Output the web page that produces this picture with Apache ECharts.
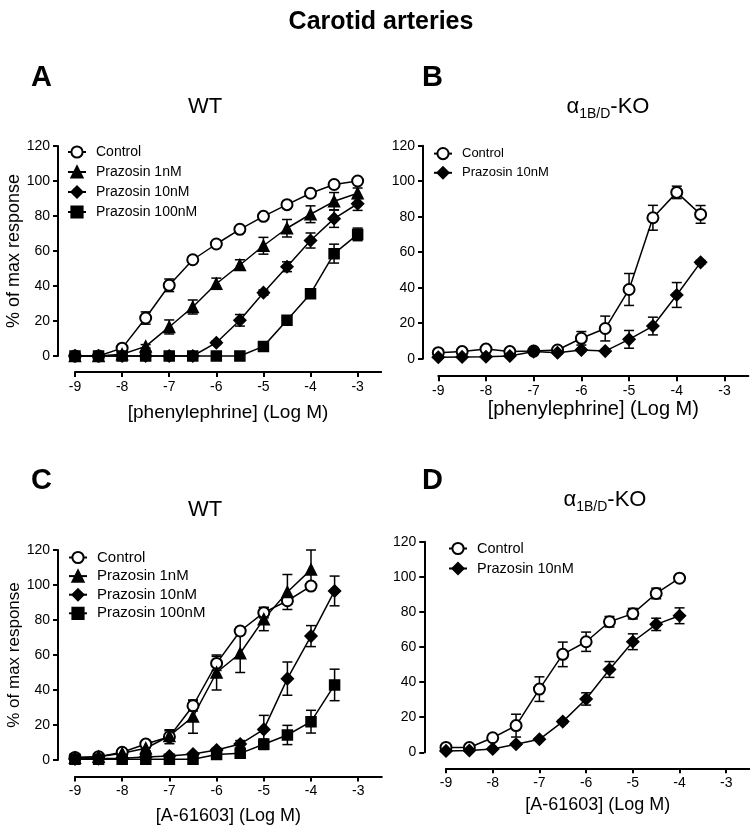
<!DOCTYPE html>
<html>
<head>
<meta charset="utf-8">
<script src="https://cdn.jsdelivr.net/npm/echarts@6/dist/echarts.min.js"></script>
<style>
  html, body { margin: 0; padding: 0; background: #fff; }
  #main { width: 750px; height: 827px; }
</style>
</head>
<body>
<div id="main"></div>
<script>
// concentrations (log M)
var xFull = [-9, -8.5, -8, -7.5, -7, -6.5, -6, -5.5, -5, -4.5, -4, -3.5, -3];
var xTo35 = [-9, -8.5, -8, -7.5, -7, -6.5, -6, -5.5, -5, -4.5, -4, -3.5];
var xTo4 = [-9, -8.5, -8, -7.5, -7, -6.5, -6, -5.5, -5, -4.5, -4];
var xTicks = [-9, -8, -7, -6, -5, -4, -3];

// A: WT, phenylephrine
var ctrlA = [0, 0, 4.5, 21.7, 40.4, 55, 64, 72.4, 79.8, 86.5, 93, 98, 100];
var ctrlAErr = [0, 0, 1, 3.5, 3.6, 1.5, 1.5, 1.5, 1.5, 1.5, 1.5, 1.5, 1];
var pz1A = [0, 0, 1, 5.5, 16.6, 28, 41.3, 52, 63, 73, 81, 88.4, 93];
var pz1AErr = [0, 0, 0.5, 1, 4, 4, 3.2, 3, 4.8, 5, 4.8, 5, 3];
var pz10A = [0, 0, 0, 0, 0, 0, 7.6, 20.4, 36.2, 51, 66, 78.5, 87];
var pz10AErr = [0, 0, 0, 0, 0, 0, 1, 3.3, 1.5, 2.8, 4.3, 5, 3.8];
var pz100A = [0, 0, 0, 0, 0, 0, 0, 0, 5.5, 20.4, 35.6, 58.5, 69.5];
var pz100AErr = [0, 0, 0, 0, 0, 0, 0, 0, 1, 1.5, 2, 5.4, 3.6];

// B: a1B/D-KO, phenylephrine
var ctrlB = [3.4, 4, 5.4, 4, 4.3, 4.9, 11.5, 17, 39, 79.4, 93.7, 81.3];
var ctrlBErr = [0.5, 0.5, 0.5, 0.5, 0.5, 0.5, 3.8, 7, 9, 7, 3.5, 5];
var pzB = [0.8, 1, 1.1, 1.5, 4, 3.4, 4.9, 4.3, 10.9, 18.4, 35.9, 54.3];
var pzBErr = [0, 0, 0, 0, 0.5, 0.5, 0.5, 0.5, 5, 5, 7, 1];

// C: WT, A-61603
var ctrlC = [1.5, 1.9, 4.4, 9.1, 13.3, 31, 55.2, 73.7, 84.2, 91, 99.4];
var ctrlCErr = [0.5, 0.5, 1, 2, 4, 3, 4, 2, 3, 2, 2];
var pz1C = [1.3, 1.9, 3.8, 6.7, 13.7, 24.8, 50, 61, 80.5, 96, 108.8];
var pz1CErr = [0.3, 0.5, 1, 1.5, 3, 9.5, 10, 11, 6.6, 10, 11.2];
var pz10C = [0.6, 0.8, 1, 1.7, 2.3, 3.4, 5.7, 9.1, 17.5, 46.5, 70.8, 96.6];
var pz10CErr = [0, 0, 0, 0.5, 0.5, 0.5, 1, 2, 8, 9.5, 6, 8.5];
var pz100C = [0.4, 0.4, 0.4, 0.4, 0.4, 0.4, 3.2, 3.8, 9, 14.3, 21.9, 42.9];
var pz100CErr = [0, 0, 0, 0, 0, 0, 0.5, 1, 3, 5.5, 6.5, 9];

// D: a1B/D-KO, A-61603
var ctrlD = [2.8, 2.7, 8.3, 15.2, 36, 55.8, 63, 74.4, 79, 90.5, 99.2];
var ctrlDErr = [0.5, 0.5, 1, 6.5, 7, 7, 5.5, 3, 3, 3, 1];
var pzD = [0.8, 1, 1.9, 4.6, 7.4, 17.5, 30.4, 47.2, 63, 72.9, 77.8];
var pzDErr = [0, 0, 0, 0.5, 0.5, 1, 3.5, 4.5, 4.5, 3.5, 4.5];

var font = 'Liberation Sans, Arial, sans-serif';
var chart = echarts.init(document.getElementById('main'));

var syms = {
    'Control': { symbol: 'emptyCircle', size: 11 },
    'Prazosin 1nM': { symbol: 'triangle', size: 11 },
    'Prazosin 10nM': { symbol: 'diamond', size: 12 },
    'Prazosin 100nM': { symbol: 'rect', size: 10 }
};

function lineSeries(name, xs, ys, gi) {
    return {
        name: name,
        type: 'line',
        xAxisIndex: gi,
        yAxisIndex: gi,
        data: xs.map(function (x, i) { return [x, ys[i]]; }),
        symbol: syms[name].symbol,
        symbolSize: syms[name].size,
        showAllSymbol: true,
        clip: false,
        z: 3,
        lineStyle: { color: '#000', width: 1.5 },
        itemStyle: { color: '#000', borderColor: '#000', borderWidth: 1.5 },
        emphasis: { disabled: true }
    };
}

function errRender(params, api) {
    var x = api.value(0);
    var top = api.coord([x, api.value(2)]);
    var bot = api.coord([x, api.value(1)]);
    var w = 5;
    var st = { stroke: '#000', lineWidth: 1.5 };
    return {
        type: 'group',
        children: [
            { type: 'line', shape: { x1: top[0], y1: top[1], x2: bot[0], y2: bot[1] }, style: st },
            { type: 'line', shape: { x1: top[0] - w, y1: top[1], x2: top[0] + w, y2: top[1] }, style: st },
            { type: 'line', shape: { x1: bot[0] - w, y1: bot[1], x2: bot[0] + w, y2: bot[1] }, style: st }
        ]
    };
}

function errSeries(xs, ys, es, gi) {
    var d = [];
    xs.forEach(function (x, i) {
        if (es[i] > 0.9) d.push([x, ys[i] - es[i], ys[i] + es[i]]);
    });
    return {
        type: 'custom',
        xAxisIndex: gi,
        yAxisIndex: gi,
        data: d,
        renderItem: errRender,
        clip: false,
        z: 2,
        silent: true
    };
}

function xAxisFor(gi, name, nameGap, nameSize, offset) {
    return {
        type: 'value', gridIndex: gi, min: -9, max: -2.5, offset: offset,
        name: name, nameLocation: 'middle', nameGap: nameGap,
        nameTextStyle: { fontSize: nameSize, color: '#000', fontFamily: font },
        axisLine: { show: true, onZero: false, lineStyle: { color: '#000', width: 2 } },
        axisTick: { show: true, length: 5, customValues: xTicks, lineStyle: { color: '#000', width: 2 } },
        axisLabel: { customValues: xTicks, fontSize: 14, color: '#000', margin: 8, fontFamily: font },
        splitLine: { show: false }
    };
}

function yAxisFor(gi, name, nameSize, offset) {
    return {
        type: 'value', gridIndex: gi, min: 0, max: 120, interval: 20, offset: offset,
        name: name, nameLocation: 'middle', nameRotate: 90, nameGap: 35,
        nameTextStyle: { fontSize: nameSize, color: '#000', fontFamily: font },
        axisLine: { show: true, onZero: false, lineStyle: { color: '#000', width: 2 } },
        axisTick: { show: true, length: 5, lineStyle: { color: '#000', width: 2 } },
        axisLabel: { fontSize: 14, color: '#000', margin: 8, fontFamily: font },
        splitLine: { show: false }
    };
}

function legendFor(names, left, top, gap, size) {
    return {
        data: names, orient: 'vertical', left: left, top: top,
        itemWidth: 18, itemHeight: 14, itemGap: gap,
        selectedMode: false,
        textStyle: { fontSize: size, color: '#000', fontFamily: font, padding: [0, 0, 0, 5] }
    };
}

var rich = {
    a: { fontSize: 22, fontWeight: 'normal', fontFamily: font, color: '#000' },
    s: { fontSize: 14, fontWeight: 'normal', fontFamily: font, color: '#000', padding: [14, 0, 0, 0] }
};
var koText = '{a|α}{s|1B/D}{a|-KO}';
var allNames = ['Control', 'Prazosin 1nM', 'Prazosin 10nM', 'Prazosin 100nM'];

var option = {
    animation: false,
    backgroundColor: '#fff',
    title: [
        { text: 'Carotid arteries', left: 376, top: 5, textAlign: 'center',
          textStyle: { fontSize: 25, fontWeight: 'bold', color: '#000', fontFamily: font } },
        { text: 'A', left: 26, top: 58, textStyle: { fontSize: 29, fontWeight: 'bold', color: '#000', fontFamily: font } },
        { text: 'B', left: 417, top: 58, textStyle: { fontSize: 29, fontWeight: 'bold', color: '#000', fontFamily: font } },
        { text: 'C', left: 26, top: 461, textStyle: { fontSize: 29, fontWeight: 'bold', color: '#000', fontFamily: font } },
        { text: 'D', left: 417, top: 461, textStyle: { fontSize: 29, fontWeight: 'bold', color: '#000', fontFamily: font } },
        { text: 'WT', left: 200, top: 91, textAlign: 'center',
          textStyle: { fontSize: 22, fontWeight: 'normal', color: '#000', fontFamily: font } },
        { text: koText, left: 603, top: 88, textAlign: 'center', textStyle: { fontWeight: 'normal', rich: rich } },
        { text: 'WT', left: 200, top: 494, textAlign: 'center',
          textStyle: { fontSize: 22, fontWeight: 'normal', color: '#000', fontFamily: font } },
        { text: koText, left: 600, top: 481, textAlign: 'center', textStyle: { fontWeight: 'normal', rich: rich } }
    ],
    legend: [
        legendFor(allNames, 62, 140, 6, 14),
        legendFor(['Control', 'Prazosin 10nM'], 428, 142, 6, 13),
        legendFor(allNames, 63, 545, 3.6, 15),
        legendFor(['Control', 'Prazosin 10nM'], 443, 536, 5, 14.5)
    ],
    grid: [
        { left: 75, top: 146, width: 306.2, height: 210, outerBoundsMode: 'none' },
        { left: 438.3, top: 145.7, width: 310, height: 213, outerBoundsMode: 'none' },
        { left: 75, top: 550, width: 306.8, height: 210, outerBoundsMode: 'none' },
        { left: 446, top: 541.7, width: 303.6, height: 210.6, outerBoundsMode: 'none' }
    ],
    xAxis: [
        xAxisFor(0, '[phenylephrine] (Log M)', 31, 19, 16),
        xAxisFor(1, '[phenylephrine] (Log M)', 20, 20, 17.5),
        xAxisFor(2, '[A-61603] (Log M)', 31, 18, 16.5),
        xAxisFor(3, '[A-61603] (Log M)', 28, 18, 16)
    ],
    yAxis: [
        yAxisFor(0, '% of max response', 18, 17),
        yAxisFor(1, '', 18, 15.3),
        yAxisFor(2, '% of max response', 17, 17),
        yAxisFor(3, '', 18, 21.7)
    ],
    series: [
        errSeries(xFull, ctrlA, ctrlAErr, 0),
        errSeries(xFull, pz1A, pz1AErr, 0),
        errSeries(xFull, pz10A, pz10AErr, 0),
        errSeries(xFull, pz100A, pz100AErr, 0),
        lineSeries('Control', xFull, ctrlA, 0),
        lineSeries('Prazosin 1nM', xFull, pz1A, 0),
        lineSeries('Prazosin 10nM', xFull, pz10A, 0),
        lineSeries('Prazosin 100nM', xFull, pz100A, 0),

        errSeries(xTo35, ctrlB, ctrlBErr, 1),
        errSeries(xTo35, pzB, pzBErr, 1),
        lineSeries('Control', xTo35, ctrlB, 1),
        lineSeries('Prazosin 10nM', xTo35, pzB, 1),

        errSeries(xTo4, ctrlC, ctrlCErr, 2),
        errSeries(xTo4, pz1C, pz1CErr, 2),
        errSeries(xTo35, pz10C, pz10CErr, 2),
        errSeries(xTo35, pz100C, pz100CErr, 2),
        lineSeries('Control', xTo4, ctrlC, 2),
        lineSeries('Prazosin 1nM', xTo4, pz1C, 2),
        lineSeries('Prazosin 10nM', xTo35, pz10C, 2),
        lineSeries('Prazosin 100nM', xTo35, pz100C, 2),

        errSeries(xTo4, ctrlD, ctrlDErr, 3),
        errSeries(xTo4, pzD, pzDErr, 3),
        lineSeries('Control', xTo4, ctrlD, 3),
        lineSeries('Prazosin 10nM', xTo4, pzD, 3)
    ]
};

chart.setOption(option);
</script>
</body>
</html>
